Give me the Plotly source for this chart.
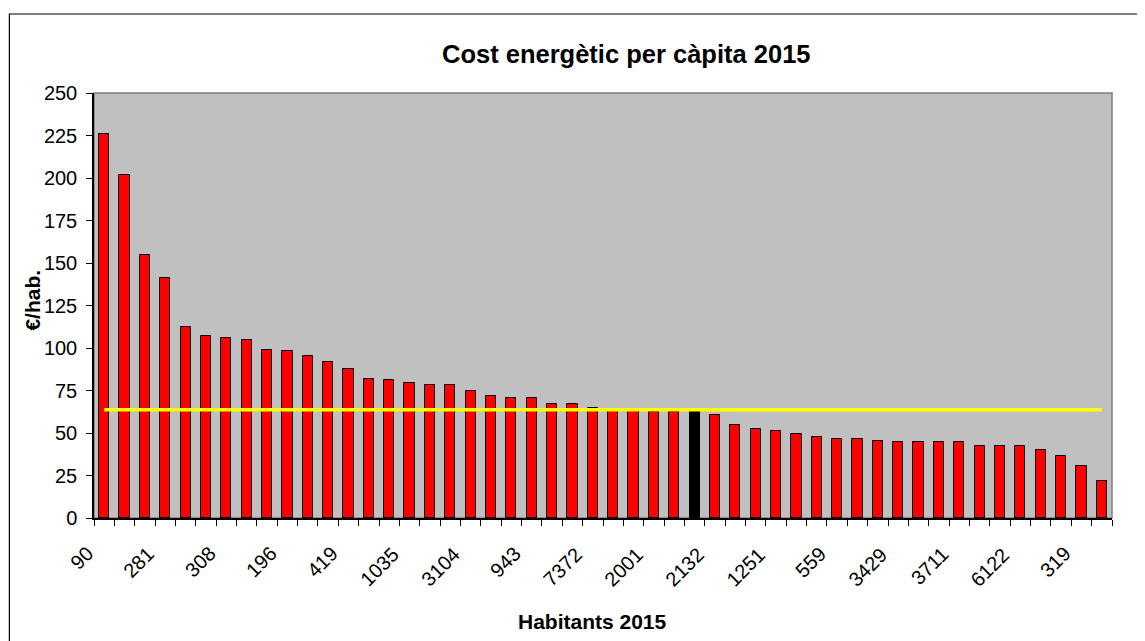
import plotly.graph_objects as go

# ---- data ----
cost_per_capita = [226, 202, 155, 141, 112.5, 107, 106, 105, 99, 98,
                   95.5, 92, 87.6, 82, 81, 79.6, 78.4, 78.4, 75, 71.6,
                   70.6, 70.6, 67.3, 67.3, 65, 63.5, 63, 62.4, 62.4, 62.4,
                   60.4, 54.7, 52.5, 51.4, 49.2, 47.8, 46.7, 46.7, 45.5, 44.5,
                   44.5, 44.5, 44.5, 42.2, 42.2, 42.2, 40, 36.5, 30.8, 22]
tick_labels = ["90", "281", "308", "196", "419", "1035", "3104", "943", "7372",
               "2001", "2132", "1251", "559", "3429", "3711", "6122", "319"]
highlight_index = 29
reference_value = 63.7

n = len(cost_per_capita)
xs = list(range(n))
colors = ["#000000" if i == highlight_index else "#FF0000" for i in xs]
label_step = 3
label_positions = xs[::label_step][:len(tick_labels)]

FONT = "Liberation Sans, Arial, sans-serif"

fig = go.Figure()
fig.add_trace(go.Bar(
    x=xs, y=cost_per_capita, width=0.5,
    marker=dict(color=colors, line=dict(color="#000000", width=1)),
    showlegend=False, hoverinfo="y",
))
fig.add_trace(go.Scatter(
    x=[xs[0], xs[-1]], y=[reference_value, reference_value],
    mode="lines", line=dict(color="#FFFF00", width=3.5),
    showlegend=False,
))

OFF = 8  # page body margin
W, H = 1145, 641
plot_left, plot_right, plot_top, plot_bottom = 93.5, 1112.5, 93, 518  # in window pixels
L = plot_left - OFF
T = plot_top - OFF
R = W - (plot_right - OFF)
B = H - (plot_bottom - OFF)
pw, ph = plot_right - plot_left, plot_bottom - plot_top

def px_to_paper_x(px):
    return (px - plot_left) / pw

def px_to_paper_y(py):
    return (plot_bottom - py) / ph

annotations = [
    dict(text="<b>Cost energètic per càpita 2015</b>", xref="paper", yref="paper",
         x=px_to_paper_x(627), y=px_to_paper_y(54), xanchor="center", yanchor="middle",
         showarrow=False, font=dict(size=25.5, family=FONT)),
    dict(text="<b>Habitants 2015</b>", xref="paper", yref="paper",
         x=px_to_paper_x(592), y=px_to_paper_y(621), xanchor="center", yanchor="middle",
         showarrow=False, font=dict(size=21, family=FONT)),
    dict(text="<b>€/hab.</b>", xref="paper", yref="paper", textangle=-90,
         x=px_to_paper_x(31), y=px_to_paper_y(300), xanchor="center", yanchor="middle",
         showarrow=False, font=dict(size=21, family=FONT)),
]
for pos, lab in zip(label_positions, tick_labels):
    annotations.append(dict(
        text=lab, xref="x", yref="paper", x=pos, y=0,
        xanchor="right", yanchor="top", textangle=-45,
        xshift=-4, yshift=-22, showarrow=False,
        font=dict(size=20, family=FONT),
    ))

fig.update_layout(
    width=W, height=H,
    margin=dict(l=L, r=R, t=T, b=B, pad=0),
    paper_bgcolor="#FFFFFF",
    plot_bgcolor="#C0C0C0",
    font=dict(family=FONT, color="#000000", size=20),
    bargap=0,
    xaxis=dict(
        range=[-0.5, n - 0.5],
        tickmode="array", tickvals=[], showticklabels=False,
        showgrid=False, zeroline=False,
        showline=True, linecolor="#000000", linewidth=1.5,
        minor=dict(tickmode="array", tickvals=[i - 0.5 for i in range(n + 1)],
                   ticks="outside", ticklen=6, tickcolor="#000000", tickwidth=1,
                   showgrid=False),
    ),
    yaxis=dict(
        range=[0, 250], tickmode="linear", tick0=0, dtick=25,
        ticks="outside", ticklen=6, tickcolor="#000000", tickwidth=1,
        tickfont=dict(size=20, family=FONT),
        showgrid=False, zeroline=False,
        showline=True, linecolor="#000000", linewidth=1.5,
        ticklabelstandoff=5,
    ),
    shapes=[
        dict(type="rect", xref="paper", yref="paper", x0=0, x1=1, y0=0, y1=1,
             line=dict(color="#808080", width=1.5), layer="below"),
        dict(type="rect", xref="paper", yref="paper",
             x0=px_to_paper_x(8.8), x1=px_to_paper_x(1170),
             y0=px_to_paper_y(670), y1=px_to_paper_y(14),
             line=dict(color="#000000", width=1.2), layer="above"),
    ],
    annotations=annotations,
)

fig.write_html("out.html")
